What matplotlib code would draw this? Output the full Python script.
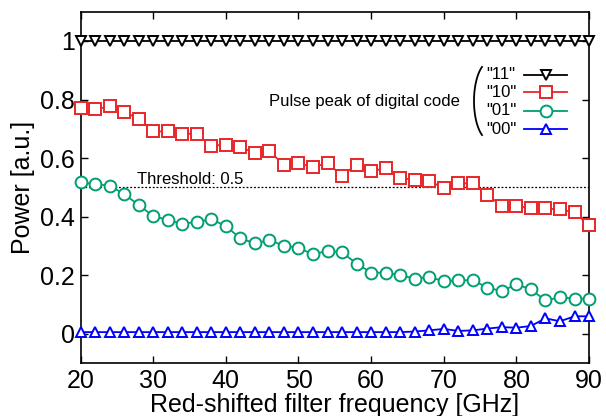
import matplotlib
matplotlib.use("Agg")
import matplotlib.pyplot as plt
from matplotlib.lines import Line2D
import numpy as np

plt.rcParams["font.family"] = ["Liberation Sans", "DejaVu Sans"]

freq = np.arange(20, 91, 2)

code_11 = [1.0] * 36
code_10 = [0.771, 0.766, 0.777, 0.758, 0.734, 0.691, 0.691, 0.684, 0.682, 0.642,
           0.646, 0.638, 0.617, 0.623, 0.577, 0.583, 0.569, 0.583, 0.540, 0.578,
           0.555, 0.566, 0.532, 0.526, 0.523, 0.497, 0.514, 0.514, 0.474, 0.438,
           0.438, 0.428, 0.428, 0.425, 0.415, 0.371]
code_01 = [0.517, 0.511, 0.506, 0.477, 0.440, 0.402, 0.389, 0.375, 0.383, 0.391,
           0.368, 0.326, 0.309, 0.320, 0.301, 0.294, 0.271, 0.284, 0.278, 0.240,
           0.209, 0.209, 0.200, 0.189, 0.194, 0.180, 0.183, 0.183, 0.158, 0.146,
           0.169, 0.152, 0.114, 0.125, 0.120, 0.120]
code_00 = [0.006, 0.006, 0.006, 0.006, 0.006, 0.006, 0.006, 0.006, 0.006, 0.006,
           0.006, 0.006, 0.006, 0.006, 0.006, 0.006, 0.006, 0.006, 0.006, 0.006,
           0.006, 0.006, 0.006, 0.008, 0.012, 0.017, 0.010, 0.012, 0.018, 0.023,
           0.021, 0.027, 0.053, 0.043, 0.060, 0.060]

threshold = 0.5
labels = ['"11"', '"10"', '"01"', '"00"']

# (data, colour, marker, size)
series = [
    (code_11, "black", "v", 7.5),
    (code_10, "#e8262a", "s", 8.5),
    (code_01, "#009e73", "o", 8.5),
    (code_00, "#0000ff", "^", 7.5),
]

W, H = 606, 416
fig = plt.figure(figsize=(W / 100, H / 100), dpi=100)
ax = fig.add_axes([0.133, 0.127, 0.839, 0.845])

for data, col, mk, ms in series:
    ax.plot(freq, data, color=col, lw=1.3, marker=mk, ms=ms, mfc="white",
            mec=col, mew=1.4, clip_on=False, zorder=3)

ax.hlines(threshold, 20, 90, colors="black", linestyles=(0, (1.5, 1.5)), lw=0.9, zorder=2)
ax.text(27.8, threshold + 0.01, "Threshold: 0.5", fontsize=12, va="baseline", ha="left")

ax.set_xlim(20, 90)
ax.set_ylim(-0.1, 1.1)
ax.set_xticks(range(20, 91, 10))
ax.set_yticks([0, 0.2, 0.4, 0.6, 0.8, 1.0])
ax.set_yticklabels(["0", "0.2", "0.4", "0.6", "0.8", "1"])
ax.tick_params(direction="in", length=5, width=1, labelsize=18, top=True, right=True,
               pad=4)
for s in ax.spines.values():
    s.set_linewidth(1.2)
ax.set_xlabel("Red-shifted filter frequency [GHz]", fontsize=18, labelpad=0)
ax.set_ylabel("Power [a.u.]", fontsize=18, labelpad=4)

# hand-made legend
rows_y = [0.821, 0.770, 0.718, 0.665]
for (data, col, mk, ms), lab, y in zip(series, labels, rows_y):
    ax.text(0.797, y, lab, transform=ax.transAxes, fontsize=12, va="center", ha="left")
    ax.plot([0.873, 0.957], [y, y], transform=ax.transAxes, color=col, lw=1.3,
            clip_on=False)
    ax.plot([0.915], [y], transform=ax.transAxes, color=col, marker=mk, ms=ms,
            mfc="white", mec=col, mew=1.4, clip_on=False)
ax.text(0.745, 0.745, "Pulse peak of digital code", transform=ax.transAxes,
        fontsize=12, va="center", ha="right")

# big left bracket around the legend rows (pixel geometry -> figure fraction)
t = np.radians(np.linspace(120, 240, 60))
bx = (490 + 16 * np.cos(t)) / W
by = 1 - (101 + 39.3 * np.sin(t)) / H
fig.add_artist(Line2D(bx, by, transform=fig.transFigure, color="black", lw=1.3))

fig.savefig("out.png", dpi=100)
